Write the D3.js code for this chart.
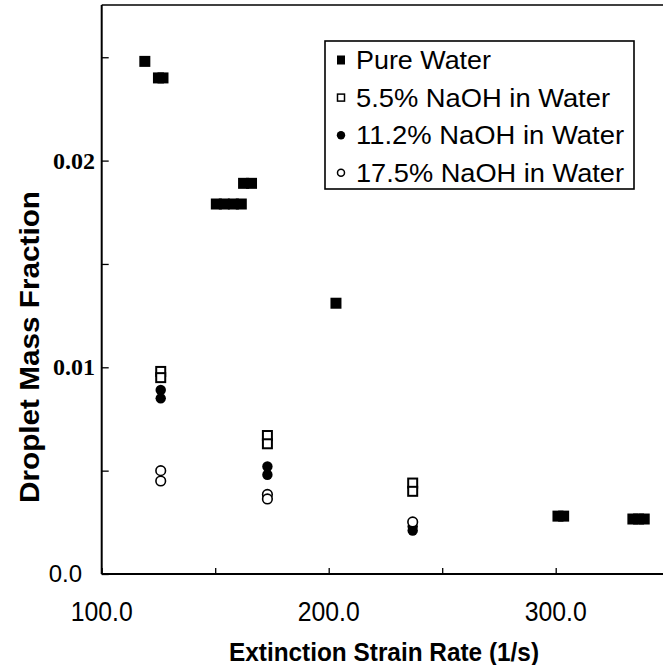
<!DOCTYPE html>
<html>
<head>
<meta charset="utf-8">
<script src="https://cdn.jsdelivr.net/npm/d3@7"></script>
<style>
  html, body { margin: 0; padding: 0; background: #fff; }
  svg { display: block; }
</style>
</head>
<body>
<script>
// ---- data ----
const pureRate = [119, 125, 127, 150.5, 154, 158, 161.5, 162.5, 166, 203.2, 301, 303.5, 334, 336.5, 339];
const pureFrac = [0.0248, 0.0240, 0.0240, 0.0179, 0.0179, 0.0179, 0.0179, 0.0189, 0.0189, 0.0131, 0.0028, 0.0028, 0.00266, 0.00266, 0.00266];

const naoh55Rate = [126, 126, 173, 173, 237, 237];
const naoh55Frac = [0.0098, 0.0095, 0.0067, 0.0063, 0.0044, 0.0040];

const naoh112Rate = [126, 126, 173, 173, 237, 237];
const naoh112Frac = [0.0089, 0.0085, 0.0052, 0.0048, 0.0023, 0.0021];

const naoh175Rate = [126, 126, 173, 173, 237];
const naoh175Frac = [0.0050, 0.0045, 0.00385, 0.00363, 0.00252];

const legendLabels = ["Pure Water", "5.5% NaOH in Water", "11.2% NaOH in Water", "17.5% NaOH in Water"];

const xTickValues = [100, 200, 300];
const xTickLabels = ["100.0", "200.0", "300.0"];
const xMinorTicks = [150, 250];
const yTickValues = [0, 0.01, 0.02];
const yTickLabels = ["0.0", "0.01", "0.02"];
const yMinorTicks = [0.005, 0.015, 0.025];

const xTitle = "Extinction Strain Rate (1/s)";
const yTitle = "Droplet Mass Fraction";

// ---- layout ----
const W = 663, H = 665;
const pLeft = 101.7, pBottom = 574, pTop = 5;
const x = d3.scaleLinear().domain([100, 350]).range([pLeft, pLeft + 250 * 2.27]);
const y = d3.scaleLinear().domain([0, 0.0275]).range([pBottom, pBottom - 0.0275 * 20670]);

const svg = d3.select("body").append("svg").attr("width", W).attr("height", H);

const sans = "'Liberation Sans', Arial, Helvetica, sans-serif";
const serif = "'Liberation Serif', 'Times New Roman', serif";

// frame lines
svg.append("line").attr("x1", pLeft).attr("x2", W + 10).attr("y1", pTop).attr("y2", pTop)
  .attr("stroke", "#000").attr("stroke-width", 1.6);
svg.append("line").attr("x1", pLeft).attr("x2", pLeft).attr("y1", pTop).attr("y2", pBottom)
  .attr("stroke", "#000").attr("stroke-width", 2);
svg.append("line").attr("x1", pLeft).attr("x2", W + 10).attr("y1", pBottom).attr("y2", pBottom)
  .attr("stroke", "#000").attr("stroke-width", 2);

// ticks (inside)
const xAxisG = svg.append("g").attr("transform", `translate(0,${pBottom})`)
  .call(d3.axisBottom(x).tickValues(xTickValues.concat(xMinorTicks)).tickSize(-6).tickFormat(""));
xAxisG.select(".domain").remove();
xAxisG.selectAll(".tick line").attr("stroke", "#000").attr("stroke-width", 1.3);

const yAxisG = svg.append("g").attr("transform", `translate(${pLeft},0)`)
  .call(d3.axisLeft(y).tickValues(yTickValues.concat(yMinorTicks)).tickSize(-7).tickFormat(""));
yAxisG.select(".domain").remove();
yAxisG.selectAll(".tick line").attr("stroke", "#000").attr("stroke-width", 1.3);

// tick labels
svg.selectAll(".xlab").data(xTickValues).enter().append("text")
  .attr("x", d => x(d)).attr("y", 621)
  .attr("text-anchor", "middle")
  .attr("font-family", sans).attr("font-size", 28)
  .attr("textLength", 62).attr("lengthAdjust", "spacingAndGlyphs")
  .text((d, i) => xTickLabels[i]);

svg.selectAll(".ylab").data(yTickValues).enter().append("text")
  .attr("x", (d, i) => i === 0 ? 82 : 95)
  .attr("y", d => y(d) + 8)
  .attr("text-anchor", "end")
  .attr("font-family", (d, i) => i === 0 ? sans : serif)
  .attr("font-weight", (d, i) => i === 0 ? "normal" : "bold")
  .attr("font-size", 24)
  .text((d, i) => yTickLabels[i]);

// axis titles
svg.append("text").attr("x", 384).attr("y", 661).attr("text-anchor", "middle")
  .attr("font-family", sans).attr("font-weight", "bold").attr("font-size", 25)
  .attr("textLength", 310).attr("lengthAdjust", "spacingAndGlyphs")
  .text(xTitle);
svg.append("text").attr("transform", "translate(39,347) rotate(-90)").attr("text-anchor", "middle")
  .attr("font-family", sans).attr("font-weight", "bold").attr("font-size", 27)
  .attr("textLength", 312).attr("lengthAdjust", "spacingAndGlyphs")
  .text(yTitle);

// ---- marks ----
const zip = (a, b) => a.map((v, i) => [v, b[i]]);
const S = 11;
svg.append("g").selectAll("rect").data(zip(pureRate, pureFrac)).enter().append("rect")
  .attr("x", d => x(d[0]) - S / 2).attr("y", d => y(d[1]) - S / 2)
  .attr("width", S).attr("height", S).attr("fill", "#000");

const S2 = 9;
svg.append("g").selectAll("rect").data(zip(naoh55Rate, naoh55Frac)).enter().append("rect")
  .attr("x", d => x(d[0]) - S2 / 2).attr("y", d => y(d[1]) - S2 / 2)
  .attr("width", S2).attr("height", S2).attr("fill", "#fff")
  .attr("stroke", "#000").attr("stroke-width", 2);

svg.append("g").selectAll("circle").data(zip(naoh112Rate, naoh112Frac)).enter().append("circle")
  .attr("cx", d => x(d[0])).attr("cy", d => y(d[1])).attr("r", 5.2).attr("fill", "#000");

svg.append("g").selectAll("circle").data(zip(naoh175Rate, naoh175Frac)).enter().append("circle")
  .attr("cx", d => x(d[0])).attr("cy", d => y(d[1])).attr("r", 4.8)
  .attr("fill", "#fff").attr("stroke", "#000").attr("stroke-width", 1.6);

// ---- legend ----
const lg = svg.append("g");
lg.append("rect").attr("x", 325).attr("y", 41).attr("width", 309).attr("height", 148)
  .attr("fill", "#fff").attr("stroke", "#000").attr("stroke-width", 1.6);
const rowY = i => 69 + i * 37.6;
const legendWidths = [135, 254, 268, 268];
legendLabels.forEach((lab, i) => {
  const cy = rowY(i) - 9;
  if (i === 0) lg.append("rect").attr("x", 337).attr("y", cy - 4.5).attr("width", 8).attr("height", 9).attr("fill", "#000");
  if (i === 1) lg.append("rect").attr("x", 337.5).attr("y", cy - 3.5).attr("width", 7).attr("height", 7)
    .attr("fill", "#fff").attr("stroke", "#000").attr("stroke-width", 1.5);
  if (i === 2) lg.append("circle").attr("cx", 341).attr("cy", cy).attr("r", 4.2).attr("fill", "#000");
  if (i === 3) lg.append("circle").attr("cx", 341).attr("cy", cy).attr("r", 3.5)
    .attr("fill", "#fff").attr("stroke", "#000").attr("stroke-width", 1.5);
  lg.append("text").attr("x", 356).attr("y", rowY(i))
    .attr("font-family", sans).attr("font-size", 25)
    .attr("textLength", legendWidths[i]).attr("lengthAdjust", "spacingAndGlyphs")
    .text(lab);
});
</script>
</body>
</html>
